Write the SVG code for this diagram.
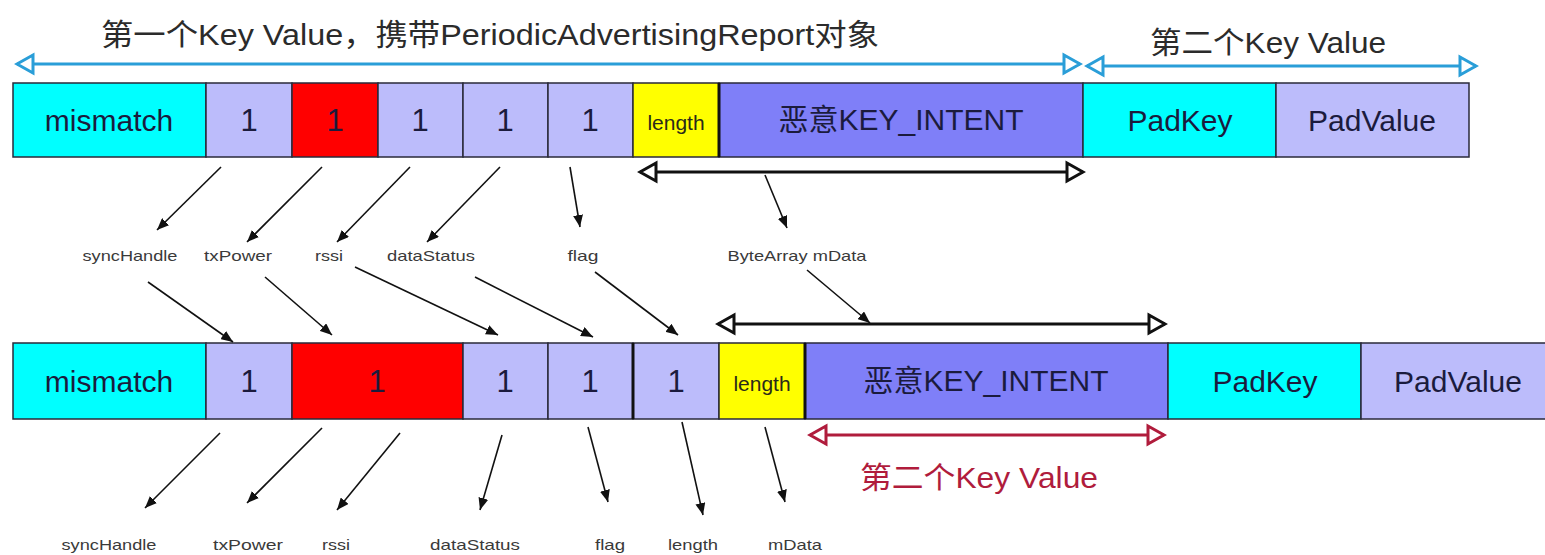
<svg xmlns="http://www.w3.org/2000/svg" width="1545" height="555" viewBox="0 0 1545 555">
  <style>
    text { font-family: "Liberation Sans", "Noto Sans CJK SC", sans-serif; }
    .cell { stroke: #2a2a3a; stroke-width: 1.5; }
    .cyan { fill: #00ffff; }
    .lav { fill: #bcbcfb; }
    .red { fill: #ff0000; }
    .yel { fill: #ffff00; }
    .blue { fill: #7f7ff8; }
    .big { font-size: 30px; fill: #1b1b3d; text-anchor: middle; }
    .num { font-size: 31px; fill: #1b1b3d; text-anchor: middle; }
    .len { font-size: 21px; fill: #2a2a1a; text-anchor: middle; }
    .lbl { font-size: 15px; fill: #3a3a3a; text-anchor: middle; }
    .title { font-size: 30px; fill: #2b2b2b; }
    .sep { stroke: #111; stroke-width: 3; }
    .thin { stroke: #111; stroke-width: 1.6; fill: none; marker-end: url(#solid); }
  </style>
  <defs>
    <marker id="solid" viewBox="0 0 12 10" refX="12" refY="5" markerWidth="12" markerHeight="10" markerUnits="userSpaceOnUse" orient="auto">
      <path d="M0,0 L12,5 L0,10 z" fill="#111"/>
    </marker>
    <marker id="openBlue" viewBox="-3 -3 22 24" refX="16" refY="9" markerWidth="22" markerHeight="24" markerUnits="userSpaceOnUse" orient="auto-start-reverse">
      <path d="M0,0 L16,9 L0,18 z" fill="#fff" stroke="#2a9ed8" stroke-width="3" stroke-linejoin="miter"/>
    </marker>
    <marker id="openBlack" viewBox="-3 -3 22 24" refX="16" refY="9" markerWidth="22" markerHeight="24" markerUnits="userSpaceOnUse" orient="auto-start-reverse">
      <path d="M0,0 L16,9 L0,18 z" fill="#fff" stroke="#111" stroke-width="3"/>
    </marker>
    <marker id="openRed" viewBox="-3 -3 22 24" refX="16" refY="9" markerWidth="22" markerHeight="24" markerUnits="userSpaceOnUse" orient="auto-start-reverse">
      <path d="M0,0 L16,9 L0,18 z" fill="#fff" stroke="#b01c3c" stroke-width="3"/>
    </marker>
  </defs>
  <rect width="1545" height="555" fill="#ffffff"/>

  <!-- headings -->
  <g id="title-first">
    <text class="title" x="101" y="45" textLength="778" lengthAdjust="spacingAndGlyphs">第一个Key Value，携带PeriodicAdvertisingReport对象</text>
  </g>
  <g id="title-second">
    <text class="title" x="1150" y="53" textLength="236" lengthAdjust="spacingAndGlyphs">第二个Key Value</text>
  </g>

  <!-- upper record -->
  <g id="row-top">
    <rect class="cell cyan" x="13" y="83" width="193" height="74"/>
    <rect class="cell lav" x="206" y="83" width="86" height="74"/>
    <rect class="cell red" x="292" y="83" width="86" height="74"/>
    <rect class="cell lav" x="378" y="83" width="85" height="74"/>
    <rect class="cell lav" x="463" y="83" width="85" height="74"/>
    <rect class="cell lav" x="548" y="83" width="85" height="74"/>
    <rect class="cell yel" x="633" y="83" width="86" height="74"/>
    <rect class="cell blue" x="719" y="83" width="364" height="74"/>
    <rect class="cell cyan" x="1083" y="83" width="193" height="74"/>
    <rect class="cell lav" x="1276" y="83" width="193" height="74"/>
    <line class="sep" x1="719" y1="83" x2="719" y2="157"/>
    <text class="big" x="109" y="131">mismatch</text>
    <text class="num" x="249" y="131">1</text>
    <text class="num" x="335" y="131">1</text>
    <text class="num" x="420" y="131">1</text>
    <text class="num" x="505" y="131">1</text>
    <text class="num" x="590" y="131">1</text>
    <text class="len" x="676" y="130">length</text>
    <text class="big" x="901" y="130">恶意KEY_INTENT</text>
    <text class="big" x="1180" y="131">PadKey</text>
    <text class="big" x="1372" y="131">PadValue</text>
  </g>

  <!-- field names of the upper record -->
  <g id="labels-top">
    <text class="lbl" x="130" y="261" textLength="95" lengthAdjust="spacingAndGlyphs">syncHandle</text>
    <text class="lbl" x="238" y="261" textLength="68" lengthAdjust="spacingAndGlyphs">txPower</text>
    <text class="lbl" x="329" y="261" textLength="28" lengthAdjust="spacingAndGlyphs">rssi</text>
    <text class="lbl" x="431" y="261" textLength="88" lengthAdjust="spacingAndGlyphs">dataStatus</text>
    <text class="lbl" x="583" y="261" textLength="31" lengthAdjust="spacingAndGlyphs">flag</text>
    <text class="lbl" x="797" y="261" textLength="139" lengthAdjust="spacingAndGlyphs">ByteArray mData</text>
  </g>

  <!-- lower record -->
  <g id="row-bottom">
    <rect class="cell cyan" x="13" y="343" width="193" height="76"/>
    <rect class="cell lav" x="206" y="343" width="86" height="76"/>
    <rect class="cell red" x="292" y="343" width="171" height="76"/>
    <rect class="cell lav" x="463" y="343" width="85" height="76"/>
    <rect class="cell lav" x="548" y="343" width="85" height="76"/>
    <rect class="cell lav" x="633" y="343" width="86" height="76"/>
    <rect class="cell yel" x="719" y="343" width="86" height="76"/>
    <rect class="cell blue" x="805" y="343" width="363" height="76"/>
    <rect class="cell cyan" x="1168" y="343" width="193" height="76"/>
    <rect class="cell lav" x="1361" y="343" width="193" height="76"/>
    <line class="sep" x1="633" y1="343" x2="633" y2="419"/>
    <line class="sep" x1="805" y1="343" x2="805" y2="419"/>
    <text class="big" x="109" y="392">mismatch</text>
    <text class="num" x="249" y="392">1</text>
    <text class="num" x="377" y="392">1</text>
    <text class="num" x="505" y="392">1</text>
    <text class="num" x="590" y="392">1</text>
    <text class="num" x="676" y="392">1</text>
    <text class="len" x="762" y="391">length</text>
    <text class="big" x="986" y="391">恶意KEY_INTENT</text>
    <text class="big" x="1265" y="392">PadKey</text>
    <text class="big" x="1458" y="392">PadValue</text>
  </g>

  <!-- field names of the lower record -->
  <g id="labels-bottom">
    <text class="lbl" x="109" y="550" textLength="95" lengthAdjust="spacingAndGlyphs">syncHandle</text>
    <text class="lbl" x="248" y="550" textLength="70" lengthAdjust="spacingAndGlyphs">txPower</text>
    <text class="lbl" x="336" y="550" textLength="28" lengthAdjust="spacingAndGlyphs">rssi</text>
    <text class="lbl" x="475" y="550" textLength="90" lengthAdjust="spacingAndGlyphs">dataStatus</text>
    <text class="lbl" x="610" y="550" textLength="30" lengthAdjust="spacingAndGlyphs">flag</text>
    <text class="lbl" x="693" y="550" textLength="50" lengthAdjust="spacingAndGlyphs">length</text>
    <text class="lbl" x="795" y="550" textLength="54" lengthAdjust="spacingAndGlyphs">mData</text>
  </g>

  <g id="label-second-kv">
    <text x="860" y="488" font-size="30" fill="#b01c3c" textLength="238" lengthAdjust="spacingAndGlyphs">第二个Key Value</text>
  </g>

  <g id="connectors">
    <!-- span markers -->
    <line x1="17" y1="64" x2="1080" y2="64" stroke="#2a9ed8" stroke-width="3" marker-start="url(#openBlue)" marker-end="url(#openBlue)"/>
    <line x1="1087" y1="66" x2="1476" y2="66" stroke="#2a9ed8" stroke-width="3" marker-start="url(#openBlue)" marker-end="url(#openBlue)"/>
    <line x1="640" y1="172" x2="1083" y2="172" stroke="#111" stroke-width="3" marker-start="url(#openBlack)" marker-end="url(#openBlack)"/>
    <line x1="718" y1="324" x2="1165" y2="324" stroke="#111" stroke-width="3" marker-start="url(#openBlack)" marker-end="url(#openBlack)"/>
    <line x1="810" y1="435" x2="1164" y2="435" stroke="#b01c3c" stroke-width="3" marker-start="url(#openRed)" marker-end="url(#openRed)"/>

    <!-- upper record to field names -->
    <line class="thin" x1="221" y1="167" x2="157" y2="230"/>
    <line class="thin" x1="322" y1="167" x2="247" y2="242"/>
    <line class="thin" x1="410" y1="167" x2="337" y2="242"/>
    <line class="thin" x1="500" y1="167" x2="427" y2="242"/>
    <line class="thin" x1="570" y1="167" x2="580" y2="227"/>
    <line class="thin" x1="765" y1="175" x2="787" y2="228"/>

    <!-- field names to lower record -->
    <line class="thin" x1="148" y1="282" x2="233" y2="342"/>
    <line class="thin" x1="265" y1="277" x2="332" y2="335"/>
    <line class="thin" x1="355" y1="267" x2="498" y2="335"/>
    <line class="thin" x1="475" y1="277" x2="593" y2="337"/>
    <line class="thin" x1="595" y1="272" x2="678" y2="335"/>
    <line class="thin" x1="807" y1="270" x2="870" y2="323"/>

    <!-- lower record to field names -->
    <line class="thin" x1="220" y1="433" x2="145" y2="508"/>
    <line class="thin" x1="322" y1="428" x2="247" y2="503"/>
    <line class="thin" x1="400" y1="433" x2="337" y2="510"/>
    <line class="thin" x1="502" y1="435" x2="480" y2="510"/>
    <line class="thin" x1="588" y1="427" x2="608" y2="502"/>
    <line class="thin" x1="682" y1="422" x2="703" y2="515"/>
    <line class="thin" x1="765" y1="427" x2="785" y2="502"/>
  </g>
</svg>
